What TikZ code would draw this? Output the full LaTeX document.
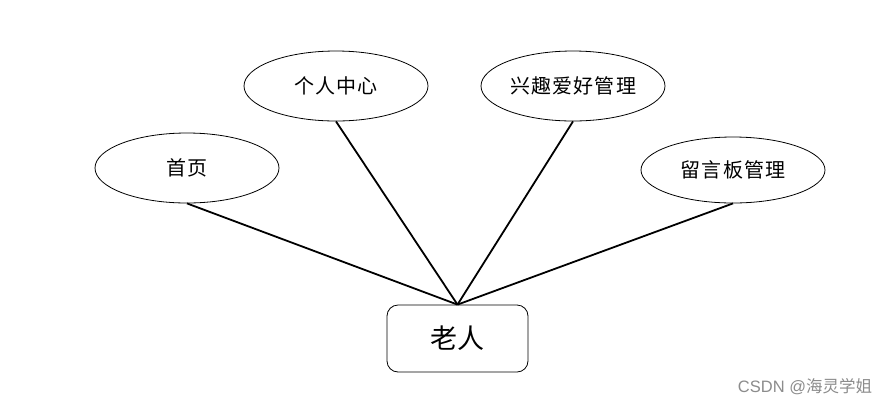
\documentclass[tikz,border=0pt]{standalone}
\usepackage{fontspec}
\setmainfont{Liberation Sans}
\newfontfamily\cjk{Noto Sans CJK SC}
\newfontfamily\cjksp{Noto Sans CJK SC}[LetterSpace=6]
\usetikzlibrary{shapes.geometric}
\begin{document}
\begin{tikzpicture}[x=1pt,y=-1pt,
  attr/.style={draw,ellipse,line width=0.8pt,minimum width=184pt,minimum height=70pt,inner sep=0pt,font=\cjksp\fontsize{20}{20}\selectfont},
  ent/.style={draw,rounded corners=11pt,line width=0.8pt,minimum width=141pt,minimum height=67pt,inner sep=0pt,font=\cjk\fontsize{27}{27}\selectfont},
  link/.style={line width=1.8pt}]
\useasboundingbox[fill=white] (0,0) rectangle (889,408);
\node[attr] (home) at (187,168) {首页};
\node[attr] (center) at (336,86) {个人中心};
\node[attr] (hobby) at (573,86) {兴趣爱好管理};
\node[attr,minimum height=66pt] (msg) at (733,170) {留言板管理};
\node[ent] (old) at (457.5,338.5) {老人};
\draw[link] (home.south) -- (old.north);
\draw[link] (center.south) -- (old.north);
\draw[link] (hobby.south) -- (old.north);
\draw[link] (msg.south) -- (old.north);
\node[text=black!45,font=\fontsize{16.5}{16.5}\selectfont,inner sep=0pt] (wm) at (805,387) {CSDN @{\cjk 海灵学姐}};
\end{tikzpicture}
\end{document}
